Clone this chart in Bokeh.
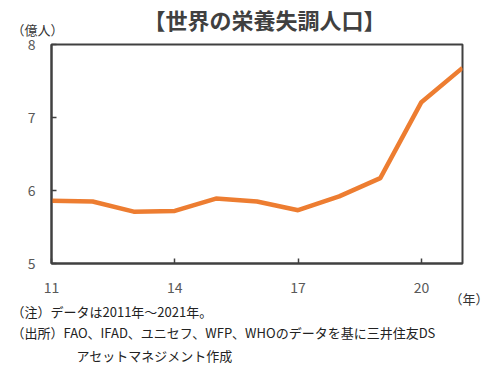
from bokeh.plotting import figure
from bokeh.models import Title, FixedTicker, Range1d
from bokeh.embed import file_html
from bokeh.resources import INLINE

years = [11, 12, 13, 14, 15, 16, 17, 18, 19, 20, 21]
undernourished = [5.86, 5.85, 5.71, 5.72, 5.89, 5.85, 5.73, 5.92, 6.17, 7.21, 7.68]
x_ticks = [11, 14, 17, 20]
y_ticks = [5, 6, 7, 8]

title_text = "【世界の栄養失調人口】"
y_unit = "（億人）"
x_unit = "（年）"
note1 = "（注）データは2011年～2021年。"
note2 = "（出所）FAO、IFAD、ユニセフ、WFP、WHOのデータを基に三井住友DS"
note3 = "アセットマネジメント作成"

FONT = "Noto Sans CJK JP"
AX = "#404040"

W, H = 502, 371
p = figure(width=W, height=H, output_backend="svg", toolbar_location=None,
           x_range=Range1d(11, 21), y_range=Range1d(5, 8),
           min_border_left=51, min_border_right=W - 462, min_border_top=44,
           min_border_bottom=H - 263)
p.title.visible = False
p.grid.visible = False
p.background_fill_color = "white"
p.border_fill_color = "white"
p.outline_line_color = AX
p.outline_line_width = 2

p.line(years, undernourished, line_color="#ED7D31", line_width=4.5)

for ax in (p.xaxis[0], p.yaxis[0]):
    ax.axis_line_color = AX
    ax.axis_line_width = 2
    ax.major_tick_line_color = AX
    ax.major_tick_line_width = 1.5
    ax.major_tick_in = 5
    ax.major_tick_out = 0
    ax.minor_tick_line_color = None
    ax.major_label_text_font = FONT
    ax.major_label_text_font_size = "14px"
    ax.major_label_text_color = "#595959"

p.xaxis[0].ticker = FixedTicker(ticks=x_ticks)
p.yaxis[0].ticker = FixedTicker(ticks=y_ticks)
p.xaxis[0].major_label_standoff = 18
p.yaxis[0].major_label_standoff = 16

def ttl(t, where, size, align, offset, standoff, valign="bottom", bold=False, color="#222222"):
    p.add_layout(Title(text=t, align=align, offset=offset, standoff=standoff,
                       vertical_align=valign,
                       text_font=FONT, text_font_size=size,
                       text_font_style="bold" if bold else "normal",
                       text_color=color), where)

# above: first added is nearest the frame
ttl(y_unit, "above", "13px", "left", -40, 7, valign="top", color="#333333")
ttl(title_text, "above", "22px", "left", 92, -37, bold=True, color="#404040")

# below: first added is nearest the axis
ttl(x_unit, "below", "13px", "right", -26, -18, color="#333333")
ttl(note1, "below", "13px", "left", -40, 2)
ttl(note2, "below", "13px", "left", -40, -2)
ttl(note3, "below", "13px", "left", 25, 6)

open("out.html", "w").write(file_html(p, INLINE))
